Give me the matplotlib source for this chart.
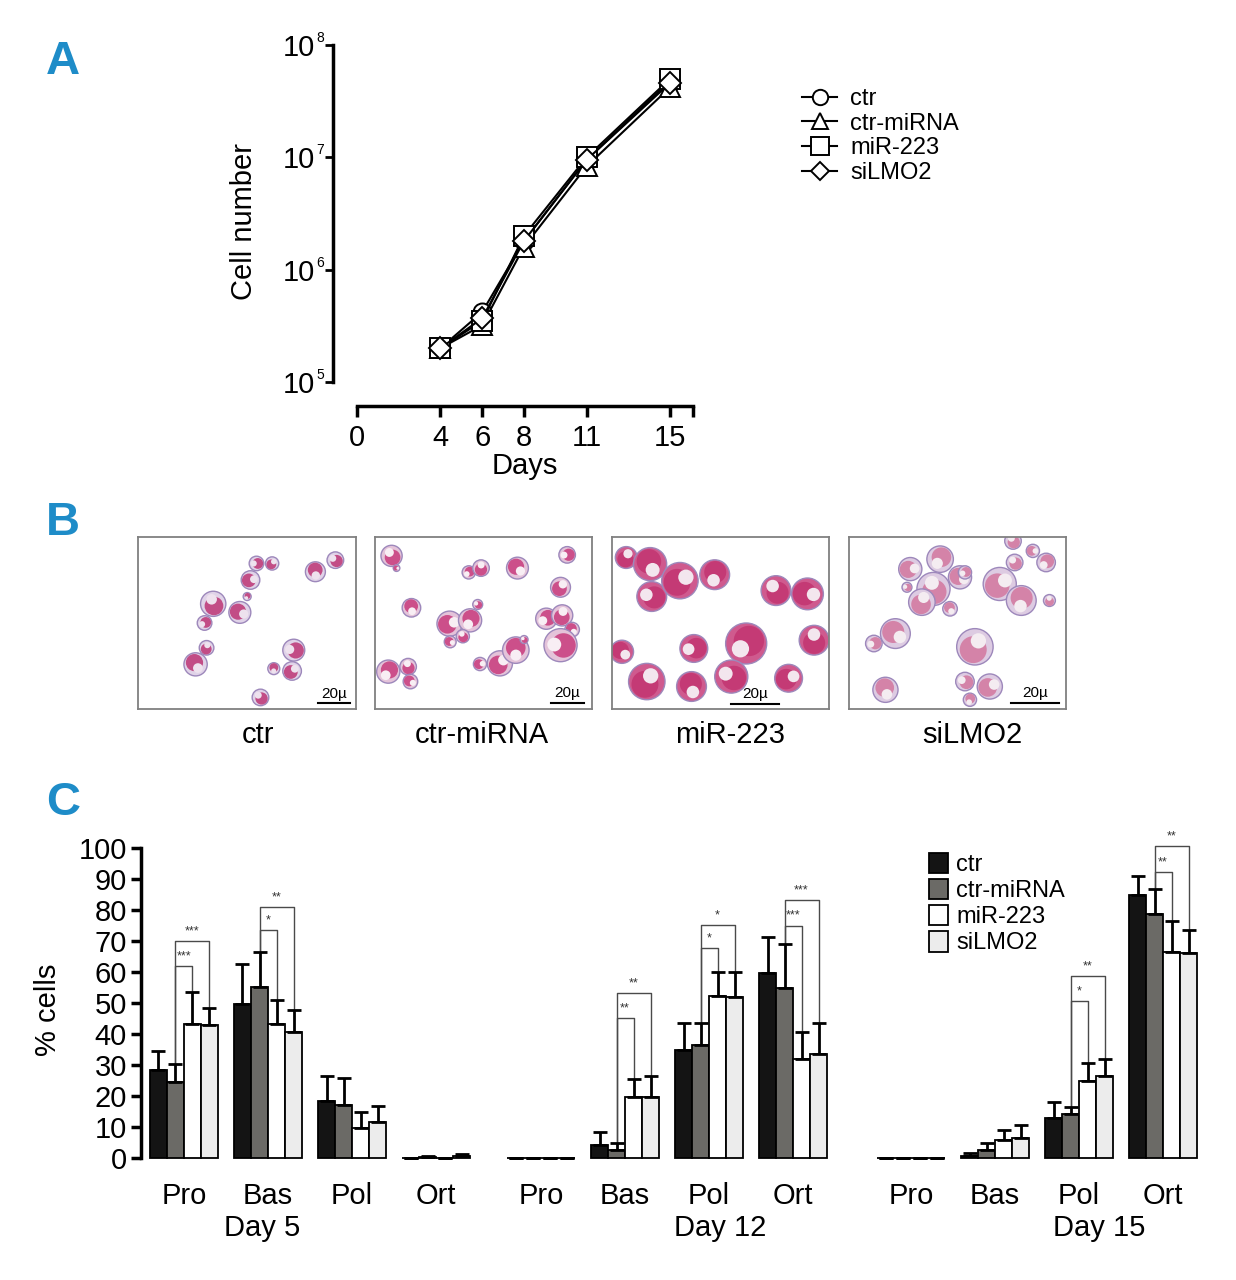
import numpy as np
import matplotlib
matplotlib.use('Agg')
import matplotlib.pyplot as plt
from matplotlib import font_manager
from matplotlib.patches import Circle
from matplotlib.ticker import NullLocator

# ---------------- data ----------------
days = [4, 6, 8, 11, 15]
growth_ctr = [2.0e5, 4.2e5, 1.8e6, 9.5e6, 4.8e7]
growth_ctr_mirna = [2.0e5, 3.2e5, 1.6e6, 8.3e6, 4.2e7]
growth_mir223 = [2.0e5, 3.5e5, 2.0e6, 1.0e7, 5.0e7]
growth_silmo2 = [2.0e5, 3.7e5, 1.8e6, 9.5e6, 4.6e7]

series_names = ['ctr', 'ctr-miRNA', 'miR-223', 'siLMO2']
stages = ['Pro', 'Bas', 'Pol', 'Ort']
day_names = ['Day 5', 'Day 12', 'Day 15']

# % cells, order: Day5 Pro..Ort, Day12 Pro..Ort, Day15 Pro..Ort
pct_ctr = [28.4, 49.8, 18.3, 0.0, 0.0, 4.3, 34.7, 59.7, 0.0, 0.7, 12.9, 84.7]
pct_ctr_mirna = [24.5, 55.1, 17.0, 0.4, 0.0, 2.7, 36.5, 54.9, 0.0, 2.7, 14.1, 78.7]
pct_mir223 = [43.1, 43.3, 9.8, 0.0, 0.0, 19.7, 52.3, 31.9, 0.0, 5.9, 24.8, 66.3]
pct_silmo2 = [42.9, 40.5, 11.7, 0.6, 0.0, 19.7, 51.9, 33.7, 0.0, 6.4, 26.3, 66.0]

sd_ctr = [6.2, 12.8, 8.1, 0.0, 0.0, 4.0, 9.0, 11.7, 0.0, 0.9, 5.2, 6.3]
sd_ctr_mirna = [5.8, 11.4, 8.9, 0.3, 0.0, 2.2, 7.2, 14.2, 0.0, 2.1, 2.5, 8.0]
sd_mir223 = [10.3, 7.8, 4.9, 0.0, 0.0, 5.8, 7.6, 8.6, 0.0, 3.1, 5.8, 10.1]
sd_silmo2 = [5.5, 7.3, 5.1, 0.6, 0.0, 6.7, 8.0, 9.9, 0.0, 4.2, 5.6, 7.4]

# significance: (day, stage, compared series, bracket height, stars)
sig_day = [0, 0, 0, 0, 1, 1, 1, 1, 1, 1, 2, 2, 2, 2]
sig_stage = [0, 0, 1, 1, 1, 1, 2, 2, 3, 3, 2, 2, 3, 3]
sig_target = [2, 3, 2, 3, 2, 3, 2, 3, 2, 3, 2, 3, 2, 3]
sig_level = [62, 70, 73.4, 80.9, 45.2, 53.2, 67.6, 75.2, 75.0, 83.1, 50.6, 58.8, 92.3, 100.5]
sig_stars = ['***', '***', '*', '**', '**', '**', '*', '*', '***', '***', '*', '**', '**', '**']

# micrograph cells (x, y, r) in panel units
cells_ctr = [(356, 80, 22), (403, 80, 20), (533, 105, 30), (593, 70, 25), (338, 130, 28),
             (328, 180, 12), (226, 202, 38), (306, 228, 33), (200, 260, 22), (206, 335, 22),
             (173, 385, 35), (468, 342, 33), (463, 405, 28), (408, 398, 18), (368, 485, 25)]
cells_ctr_mirna = [(50, 57, 32), (65, 94, 10), (283, 107, 20), (320, 94, 25), (430, 94, 33),
                   (580, 54, 25), (560, 152, 30), (110, 214, 28), (310, 204, 15), (225, 262, 38),
                   (287, 252, 35), (265, 300, 20), (227, 317, 18), (517, 247, 32), (565, 237, 32),
                   (595, 280, 22), (560, 327, 50), (377, 382, 38), (425, 342, 40), (450, 310, 12),
                   (317, 384, 20), (40, 407, 35), (100, 392, 25), (107, 437, 22)]
cells_mir223 = [(43, 62, 33), (115, 82, 50), (120, 180, 45), (205, 132, 55), (310, 114, 45),
                (495, 162, 45), (590, 172, 48), (405, 322, 62), (610, 312, 45), (30, 347, 35),
                (247, 337, 42), (105, 437, 55), (240, 452, 45), (360, 422, 50), (533, 427, 42)]
cells_silmo2 = [(185, 97, 35), (275, 67, 40), (255, 157, 50), (335, 122, 35), (350, 107, 20),
                (220, 197, 40), (305, 217, 22), (175, 152, 15), (455, 142, 50), (520, 192, 45),
                (500, 77, 25), (555, 42, 20), (595, 77, 28), (605, 192, 18), (140, 292, 45),
                (75, 322, 25), (380, 332, 55), (110, 462, 38), (350, 437, 28), (425, 452, 38),
                (365, 492, 20), (495, 12, 25)]

# ---------------- style ----------------
names = {f.name for f in font_manager.fontManager.ttflist}
fam = 'Liberation Sans Narrow' if 'Liberation Sans Narrow' in names else 'Liberation Sans'
plt.rcParams['font.family'] = [fam, 'DejaVu Sans']

W, H = 1236, 1280
PT = 100 / 72.0  # pixels per point
fig = plt.figure(figsize=(W / 100, H / 100), dpi=100)


def rect(x0, y0, x1, y1):
    return [x0 / W, 1 - y1 / H, (x1 - x0) / W, (y1 - y0) / H]


panel_blue = '#1e8cc8'
for letter, (lx, ly) in zip('ABC', [(63, 62), (63, 523), (63, 803)]):
    fig.text(lx / W, 1 - ly / H, letter, color=panel_blue, fontsize=34,
             fontweight='bold', ha='center', va='center')

# ---------------- panel A ----------------
axA = fig.add_axes(rect(357, 45, 693, 382))
axA.set_yscale('log')
markers = ['o', '^', 's', 'D']
msizes = [13, 14, 15, 11]
for vals, m, ms, lab in zip([growth_ctr, growth_ctr_mirna, growth_mir223, growth_silmo2],
                            markers, msizes, series_names):
    axA.plot(days, vals, color='black', lw=1.5, marker=m, ms=ms, mfc='white',
             mec='black', mew=1.4, label=lab, clip_on=False)
axA.set_xlim(0, 16.1)
axA.set_ylim(1e5, 1e8)
for s in ['top', 'right']:
    axA.spines[s].set_visible(False)
for s in ['left', 'bottom']:
    axA.spines[s].set_position(('outward', 24 / PT))
    axA.spines[s].set_linewidth(2.5)
axA.set_xticks([0, 4, 6, 8, 11, 15, 16.1])
axA.set_xticklabels(['0', '4', '6', '8', '11', '15', ''])
yt = [1e5, 1e6, 1e7, 1e8]
axA.set_yticks(yt)
axA.set_yticklabels(['10'] * 4)
axA.yaxis.set_minor_locator(NullLocator())
axA.tick_params(axis='x', length=8, width=2.5, labelsize=21, pad=5)
axA.tick_params(axis='y', length=6, width=2, labelsize=21, pad=7)
for v, e in zip(yt, ['5', '6', '7', '8']):
    axA.annotate(e, xy=(0, v), xycoords=axA.get_yaxis_transform(),
                 xytext=(-37 / PT, 7 / PT), textcoords='offset points',
                 fontsize=10, ha='center', va='center')
axA.set_xlabel('Days', fontsize=21, labelpad=0)
axA.set_ylabel('Cell number', fontsize=21)
axA.yaxis.set_label_coords((258 - 357) / 336, (382 - 222) / 337)
axA.legend(loc='upper left', bbox_to_anchor=(790 / W, 1 - 76 / H),
           bbox_transform=fig.transFigure, frameon=False, fontsize=17,
           handlelength=1.5, handletextpad=0.55, labelspacing=0.12, borderpad=0,
           markerscale=0.85)

# ---------------- panel B ----------------
img_boxes = [(138, 537, 356, 709), (375, 537, 592, 709), (612, 537, 829, 709), (849, 537, 1066, 709)]
img_label_x = [258, 482, 730, 972]
img_cells = [cells_ctr, cells_ctr_mirna, cells_mir223, cells_silmo2]
cyto_cols = ['#e0d3e8', '#e4c3d9', '#cf5a8e', '#ddcbe2']
nuc_cols = ['#c24d86', '#cc4f8a', '#c43a75', '#d483a8']
gran_cols = ['#eee2ee', '#f8eef4', '#f3e6ee', '#f4ecf1']
bar_x = [(540, 638), (530, 630), (360, 505), (490, 635)]
bar_y = [503, 502, 504, 502]
for i, (box, cells) in enumerate(zip(img_boxes, img_cells)):
    ax = fig.add_axes(rect(*box))
    ax.set_xlim(0, 655)
    ax.set_ylim(520, 0)
    ax.set_xticks([])
    ax.set_yticks([])
    for s in ax.spines.values():
        s.set_color('#808080')
        s.set_linewidth(1.3)
    for j, (cx, cy, r) in enumerate(cells):
        a = j * 2.3 + i
        ax.add_patch(Circle((cx, cy), r, fc=cyto_cols[i], ec='#9d88bb', lw=1.0))
        ax.add_patch(Circle((cx + 0.18 * r * np.cos(a), cy + 0.18 * r * np.sin(a)), 0.74 * r,
                            fc=nuc_cols[i], ec='none'))
        ax.add_patch(Circle((cx - 0.38 * r * np.cos(a), cy - 0.38 * r * np.sin(a)), 0.42 * r,
                            fc=gran_cols[i], ec='none'))
    ax.plot(bar_x[i], [bar_y[i], bar_y[i]], color='black', lw=1.5)
    ax.text(np.mean(bar_x[i]), bar_y[i] - 8, '20\u00b5', fontsize=11, ha='center', va='bottom')
    fig.text(img_label_x[i] / W, 1 - 735 / H, series_names[i], fontsize=21,
             ha='center', va='center')

# ---------------- panel C ----------------
axC = fig.add_axes(rect(141, 848, 1200, 1158))
axC.set_xlim(141, 1200)
axC.set_ylim(0, 100)
day_starts = [150, 507, 877]
group_step = 84
bw = 17
fills = ['#141414', '#6b6a66', '#ffffff', '#ececec']
pcts = [pct_ctr, pct_ctr_mirna, pct_mir223, pct_silmo2]
sds = [sd_ctr, sd_ctr_mirna, sd_mir223, sd_silmo2]


def bar_x_pos(d, st, k):
    return day_starts[d] + group_step * st + bw * k + bw / 2


for k in range(4):
    xs = [bar_x_pos(d, st, k) for d in range(3) for st in range(4)]
    axC.bar(xs, pcts[k], width=bw, color=fills[k], edgecolor='black', lw=1.3,
            label=series_names[k], clip_on=False, zorder=2)
    axC.errorbar(xs, pcts[k], yerr=[np.zeros(12), sds[k]], fmt='none', ecolor='black',
                 elinewidth=2, capsize=5, capthick=2, clip_on=False, zorder=3)

for d, st, t, lev, stars in zip(sig_day, sig_stage, sig_target, sig_level, sig_stars):
    i0 = d * 4 + st
    x0 = bar_x_pos(d, st, 1)
    x1 = bar_x_pos(d, st, t)
    y0 = pcts[1][i0] + sds[1][i0]
    y1 = pcts[t][i0] + sds[t][i0]
    axC.plot([x0, x0, x1, x1], [y0, lev, lev, y1], color='#4a4a4a', lw=1, clip_on=False)
    axC.text((x0 + x1) / 2, lev + 1.2, stars, fontsize=9, ha='center', va='bottom',
             color='#333333')

axC.spines['top'].set_visible(False)
axC.spines['right'].set_visible(False)
axC.spines['bottom'].set_visible(False)
axC.spines['left'].set_linewidth(2.5)
axC.set_yticks(np.arange(0, 101, 10))
axC.tick_params(axis='y', length=7, width=2.5, labelsize=21, pad=3)
centers = [day_starts[d] + group_step * st + 2 * bw for d in range(3) for st in range(4)]
axC.set_xticks(centers)
axC.set_xticklabels(stages * 3)
axC.tick_params(axis='x', length=0, labelsize=21, pad=17)
axC.set_ylabel('% cells', fontsize=21)
axC.yaxis.set_label_coords((62 - 141) / 1059, (1158 - 1010) / 310)
day_label_x = [262, 720, 1099]
for dx, name in zip(day_label_x, day_names):
    fig.text(dx / W, 1 - 1228 / H, name, fontsize=21, ha='center', va='center')
axC.legend(loc='upper left', bbox_to_anchor=(917 / W, 1 - 841 / H),
           bbox_transform=fig.transFigure, frameon=False, fontsize=17,
           handlelength=0.8, handleheight=0.95, handletextpad=0.35, labelspacing=0.12,
           borderpad=0)

fig.savefig('out.png', dpi=100)
